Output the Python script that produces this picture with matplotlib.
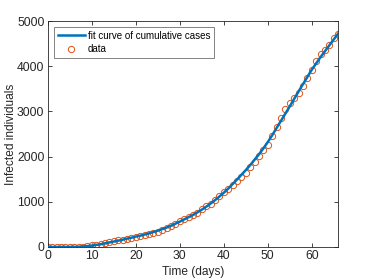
import matplotlib
matplotlib.use("Agg")
import matplotlib.pyplot as plt

days = list(range(0, 67))
cases = [0, 0, 0, 0, 0, 0, 2, 5, 10, 20,
         35, 50, 65, 85, 105, 125, 145, 165, 185, 205,
         225, 250, 270, 290, 310, 340, 380, 420, 470, 510,
         580, 620, 660, 700, 760, 830, 900, 960, 1030, 1130,
         1210, 1280, 1360, 1450, 1540, 1640, 1760, 1880, 2010, 2150,
         2250, 2460, 2660, 2860, 3050, 3190, 3300, 3400, 3560, 3730,
         3920, 4110, 4280, 4360, 4460, 4620, 4710]

fit_days = list(range(0, 67))
fit_vals = [0, 0, 0, 0, 0, 1, 2, 4, 12, 20,
            30, 45, 60, 80, 100, 120, 140, 160, 185, 205,
            230, 250, 275, 300, 330, 360, 395, 430, 470, 515,
            560, 610, 660, 710, 765, 825, 890, 960, 1035, 1115,
            1200, 1290, 1390, 1490, 1595, 1700, 1810, 1930, 2050, 2180,
            2320, 2470, 2630, 2790, 2950, 3110, 3275, 3440, 3600, 3760,
            3920, 4060, 4200, 4330, 4460, 4590, 4720]

plt.rcParams['font.family'] = ['Liberation Sans', 'DejaVu Sans']
fig = plt.figure(figsize=(3.74, 2.80), dpi=100)
ax = fig.add_axes([0.128, 0.118, 0.776, 0.807])

ax.plot(fit_days, fit_vals, color='#0072BD', lw=1.8, label='fit curve of cumulative cases', zorder=3)
ax.plot(days, cases, 'o', mfc='none', mec='#D95319', ms=4.5, mew=0.7, label='data', zorder=2)

ax.set_xlim(0, 66)
ax.set_ylim(0, 5000)
ax.set_xticks([0, 10, 20, 30, 40, 50, 60])
ax.set_yticks([0, 1000, 2000, 3000, 4000, 5000])
ax.tick_params(direction='in', top=True, right=True, labelsize=8.7, colors='#262626', length=3, width=0.6, pad=2.5)
for s in ax.spines.values():
    s.set_color('#262626')
    s.set_linewidth(0.6)
ax.set_xlabel('Time (days)', fontsize=8.6, color='#262626')
ax.set_ylabel('Infected individuals', fontsize=8.6, color='#262626')
ax.yaxis.set_label_coords(-0.108, 0.5)
ax.xaxis.set_label_coords(0.5, -0.085)

leg = ax.legend(loc='upper left', fontsize=7, frameon=True, fancybox=False, edgecolor='#262626',
                borderpad=0.35, handlelength=2.8, handletextpad=0.3, labelspacing=0.35,
                borderaxespad=0.65)
leg.get_frame().set_linewidth(0.5)

fig.savefig('out.png', dpi=100)
